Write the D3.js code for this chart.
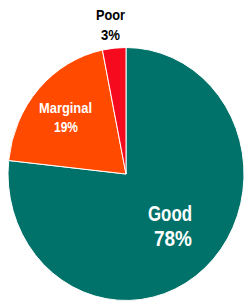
<!DOCTYPE html>
<html><head><meta charset="utf-8">
<script src="https://cdn.jsdelivr.net/npm/d3@7"></script>
<style>html,body{margin:0;padding:0;background:#fff;}svg{display:block;}</style>
</head><body>
<script>
const categories = ["Good", "Marginal", "Poor"];
const values = [76.7, 20.1, 3.2];
const percentLabels = ["78%", "19%", "3%"];
const colors = ["#00726A", "#FF4A00", "#F50A1E"];

const W = 245, H = 303;
const cx = 126, cy = 174, rx = 118, ry = 126.5;

const svg = d3.select("body").append("svg").attr("width", W).attr("height", H);
const pie = d3.pie().sort(null).value(d => d.v)(categories.map((c, i) => ({c, v: values[i], i})));
const arc = d3.arc().innerRadius(0).outerRadius(ry);

const g = svg.append("g").attr("transform", `translate(${cx},${cy}) scale(${rx/ry},1)`);
g.selectAll("path").data(pie).join("path")
  .attr("d", arc)
  .attr("fill", d => colors[d.data.i])
  .attr("stroke", "#fff")
  .attr("stroke-width", 1)
  .attr("vector-effect", "non-scaling-stroke");

const font = "'Liberation Sans',Arial,sans-serif";
const labelSpec = [
  {x1: 170, x2: 173, y1: 221, y2: 246, size: 22, w1: 44, w2: 38, fill: "#fff"},
  {x1: 65.5, x2: 66, y1: 113, y2: 131.5, size: 15, w1: 53, w2: 24, fill: "#fff"},
  {x1: 110.5, x2: 110.5, y1: 20, y2: 39.5, size: 15, w1: 29, w2: 19, fill: "#000"}
];
categories.forEach((c, i) => {
  const s = labelSpec[i];
  [[c, s.x1, s.y1, s.w1], [percentLabels[i], s.x2, s.y2, s.w2]].forEach(([txt, x, y, w]) => {
    svg.append("text").attr("text-anchor", "middle")
      .attr("font-family", font).attr("font-weight", 700)
      .attr("font-size", s.size).attr("fill", s.fill)
      .attr("x", x).attr("y", y)
      .attr("textLength", w).attr("lengthAdjust", "spacingAndGlyphs")
      .text(txt);
  });
});
</script>
</body></html>
